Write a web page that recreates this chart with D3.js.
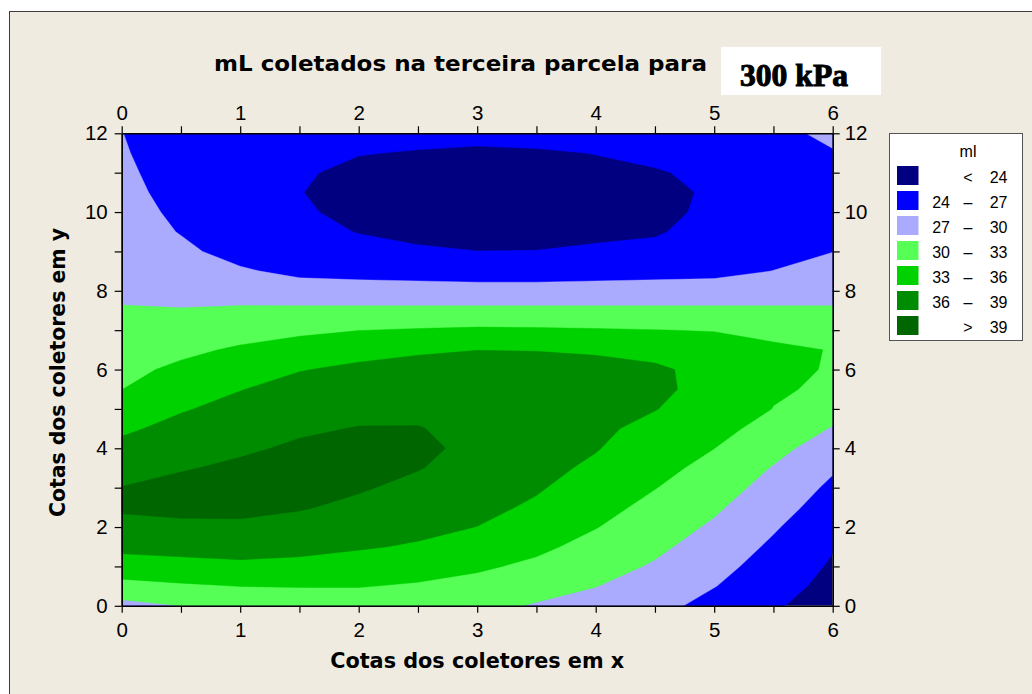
<!DOCTYPE html>
<html>
<head>
<meta charset="utf-8">
<script src="https://cdn.jsdelivr.net/npm/d3@7"></script>
<style>
  body { margin: 0; background: #ffffff; }
  svg { display: block; }
</style>
</head>
<body>
<svg id="chart" width="1032" height="694"></svg>
<script>
// ---------------- DATA ----------------
const xValues = [0, 0.5, 1, 1.5, 2, 2.5, 3, 3.5, 4, 4.5, 5, 5.5, 6];
const yValues = [0, 0.5, 1, 1.5, 2, 2.5, 3, 3.5, 4, 4.5, 5, 5.5, 6, 6.5, 7, 7.5, 8, 8.5, 9, 9.5, 10, 10.5, 11, 11.5, 12];

// mL collected, one array per x position (values from y = 0 up to y = 12)
const mlX0_0 = [29.1, 32.06, 34.73, 36.71, 38.12, 39.42, 39.07, 37.91, 36.74, 35.53, 34.24, 32.97, 32.28, 31.58, 30.89, 30.19, 29.5, 29.2, 28.9, 28.55, 28.2, 27.9, 27.5, 27.25, 27.05];
const mlX0_5 = [30.02, 32.63, 35.08, 36.95, 38.48, 39.63, 39.8, 38.8, 37.8, 36.8, 35.78, 34.66, 33.54, 32.41, 31.27, 30.12, 29.27, 28.45, 27.63, 26.85, 26.38, 25.92, 25.83, 25.58, 25.4];
const mlX1_0 = [30.4, 33.05, 35.43, 37.11, 38.56, 39.61, 40.32, 39.47, 38.61, 37.72, 36.83, 35.92, 34.64, 33.36, 31.9, 30.4, 28.8, 27.36, 25.9, 25.3, 24.95, 24.8, 24.85, 25.0, 25.2];
const mlX1_5 = [30.7, 33.16, 35.22, 36.8, 38.09, 39.21, 39.89, 40.04, 39.38, 38.63, 37.73, 36.84, 35.9, 34.21, 32.45, 30.5, 28.42, 26.27, 25.2, 24.6, 24.25, 24.05, 24.2, 24.5, 24.9];
const mlX2_0 = [31.3, 33.13, 34.76, 36.26, 37.35, 38.43, 39.26, 39.79, 39.67, 39.11, 38.26, 37.34, 36.42, 35.3, 32.95, 30.5, 28.42, 25.88, 24.6, 23.93, 23.5, 23.4, 23.6, 24.07, 24.5];
const mlX2_5 = [31.2, 32.7, 34.21, 35.73, 36.68, 37.51, 38.34, 39.12, 39.7, 39.12, 38.33, 37.5, 36.67, 35.75, 33.23, 30.55, 28.26, 25.74, 24.4, 23.2, 22.8, 22.7, 22.9, 23.9, 24.5];
const mlX3_0 = [30.85, 32.13, 33.41, 34.69, 35.97, 36.7, 37.4, 38.0, 38.2, 38.2, 37.9, 37.4, 36.8, 35.98, 33.46, 30.55, 28.26, 25.4, 24.03, 22.9, 22.4, 22.3, 22.5, 23.5, 24.9];
const mlX3_5 = [29.76, 31.1, 32.44, 33.58, 34.59, 35.6, 36.27, 36.71, 37.16, 37.6, 37.19, 36.79, 36.38, 35.97, 33.39, 30.55, 28.26, 25.4, 24.06, 22.95, 22.5, 22.4, 22.6, 23.6, 25.4];
const mlX4_0 = [29.04, 30.06, 31.08, 32.1, 33.1, 33.92, 34.74, 35.56, 36.14, 36.44, 36.74, 36.55, 36.4, 35.85, 33.23, 30.55, 28.26, 25.74, 24.35, 23.5, 23.0, 22.9, 23.2, 24.09, 25.2];
const mlX4_5 = [28.03, 28.87, 29.71, 30.56, 31.4, 32.25, 33.08, 33.84, 34.61, 35.37, 36.07, 36.43, 36.3, 35.4, 33.07, 30.5, 28.42, 25.88, 24.5, 23.8, 23.5, 23.4, 23.8, 24.6, 25.4];
const mlX5_0 = [25.9, 27.1, 27.93, 28.76, 29.59, 30.43, 31.29, 32.16, 33.02, 33.96, 34.9, 35.3, 35.4, 34.6, 32.86, 30.45, 28.58, 26.03, 25.1, 24.75, 24.4, 24.3, 24.55, 25.2, 25.8];
const mlX5_5 = [24.3, 25.04, 25.78, 26.52, 27.29, 28.14, 28.98, 29.83, 30.84, 31.89, 32.94, 33.32, 33.53, 33.4, 32.4, 30.4, 28.73, 27.05, 25.8, 25.4, 25.2, 25.15, 25.3, 25.8, 26.4];
const mlX6_0 = [22.8, 23.23, 23.67, 24.18, 24.93, 25.69, 26.44, 27.33, 28.58, 29.83, 31.0, 32.56, 32.83, 32.92, 31.62, 30.3, 29.05, 28.0, 26.95, 26.3, 26.0, 25.9, 26.1, 26.85, 27.5];

const thresholds = [24, 27, 30, 33, 36, 39];
const bandColors = ["#000080", "#0000FF", "#AAAAFF", "#55FF55", "#00D200", "#008C00", "#006600"];

const xTickValues = [0, 0.5, 1, 1.5, 2, 2.5, 3, 3.5, 4, 4.5, 5, 5.5, 6];
const xTickLabels = [0, 1, 2, 3, 4, 5, 6];
const yTickValues = [0, 1, 2, 3, 4, 5, 6, 7, 8, 9, 10, 11, 12];
const yTickLabels = [0, 2, 4, 6, 8, 10, 12];

const titleText = "mL coletados na terceira parcela para";
const pressureText = "300 kPa";
const xTitle = "Cotas dos coletores em x";
const yTitle = "Cotas dos coletores em y";
const legendTitle = "ml";

// ---------------- LAYOUT ----------------
const svg = d3.select("#chart");
const plot = { left: 121.7, right: 832.7, top: 133.3, bottom: 605.8 };

const x = d3.scaleLinear().domain([0, 6]).range([plot.left, plot.right]);
const y = d3.scaleLinear().domain([0, 12]).range([plot.bottom, plot.top]);

// outer frame (beige panel)
svg.append("rect").attr("x", 0).attr("y", 0).attr("width", 1032).attr("height", 694).attr("fill", "#ffffff");
svg.append("rect")
  .attr("x", 9.5).attr("y", 11.5).attr("width", 1200).attr("height", 900)
  .attr("fill", "#F0EBE1").attr("stroke", "#3c3c3c").attr("stroke-width", 1);

// ---------------- CONTOURS ----------------
const columns = [mlX0_0, mlX0_5, mlX1_0, mlX1_5, mlX2_0, mlX2_5, mlX3_0, mlX3_5, mlX4_0, mlX4_5, mlX5_0, mlX5_5, mlX6_0];
const nx = xValues.length, ny = yValues.length;
const grid = new Array(nx * ny);
for (let j = 0; j < ny; j++) for (let i = 0; i < nx; i++) grid[j * nx + i] = columns[i][j];

const xStep = xValues[1] - xValues[0];
const yStep = yValues[1] - yValues[0];
const projection = d3.geoTransform({
  point: function (gx, gy) {
    this.stream.point(x(xValues[0] + (gx - 0.5) * xStep), y(yValues[0] + (gy - 0.5) * yStep));
  }
});
const path = d3.geoPath(projection);

svg.append("clipPath").attr("id", "plotClip")
  .append("rect")
  .attr("x", plot.left).attr("y", plot.top)
  .attr("width", plot.right - plot.left).attr("height", plot.bottom - plot.top);

const gPlot = svg.append("g").attr("clip-path", "url(#plotClip)");
gPlot.append("rect")
  .attr("x", plot.left).attr("y", plot.top)
  .attr("width", plot.right - plot.left).attr("height", plot.bottom - plot.top)
  .attr("fill", bandColors[0]);

const contours = d3.contours().size([nx, ny]).thresholds(thresholds)(grid);
gPlot.selectAll("path.band")
  .data(contours)
  .join("path")
  .attr("class", "band")
  .attr("d", path)
  .attr("fill", (d, i) => bandColors[i + 1])
  .attr("stroke", (d, i) => bandColors[i + 1])
  .attr("stroke-width", 0.4);

// ---------------- AXES ----------------
const tickFont = "'Liberation Sans', Arial, sans-serif";
const fmtX = v => (xTickLabels.includes(v) ? String(v) : "");
const fmtY = v => (yTickLabels.includes(v) ? String(v) : "");

function styleAxis(g) {
  g.select(".domain").attr("stroke", "#000").attr("stroke-width", 1.6);
  g.selectAll(".tick line").attr("stroke", "#000").attr("stroke-width", 1.2);
  g.selectAll(".tick text").attr("fill", "#000").style("font-family", tickFont).style("font-size", "20.5px");
}

svg.append("g").attr("transform", `translate(0,${plot.bottom})`)
  .call(d3.axisBottom(x).tickValues(xTickValues).tickFormat(fmtX).tickSize(7).tickSizeOuter(0).tickPadding(10))
  .call(styleAxis);
svg.append("g").attr("transform", `translate(0,${plot.top})`)
  .call(d3.axisTop(x).tickValues(xTickValues).tickFormat(fmtX).tickSize(7).tickSizeOuter(0).tickPadding(6))
  .call(styleAxis);
svg.append("g").attr("transform", `translate(${plot.left},0)`)
  .call(d3.axisLeft(y).tickValues(yTickValues).tickFormat(fmtY).tickSize(7).tickSizeOuter(0).tickPadding(7))
  .call(styleAxis);
svg.append("g").attr("transform", `translate(${plot.right},0)`)
  .call(d3.axisRight(y).tickValues(yTickValues).tickFormat(fmtY).tickSize(7).tickSizeOuter(0).tickPadding(5))
  .call(styleAxis);

// ---------------- TITLES ----------------
const titleFont = "'DejaVu Sans', Verdana, sans-serif";
svg.append("text")
  .attr("x", 214).attr("y", 71)
  .attr("textLength", 493).attr("lengthAdjust", "spacingAndGlyphs")
  .style("font-family", titleFont).style("font-weight", "bold").style("font-size", "22px")
  .attr("fill", "#000").text(titleText);

svg.append("rect")
  .attr("x", 721).attr("y", 47).attr("width", 160).attr("height", 48)
  .attr("fill", "#ffffff");
svg.append("text")
  .attr("x", 740).attr("y", 86)
  .attr("textLength", 108).attr("lengthAdjust", "spacingAndGlyphs")
  .style("font-family", "'Liberation Serif', 'Times New Roman', serif")
  .style("font-weight", "bold").style("font-size", "31px")
  .attr("fill", "#000").attr("stroke", "#000").attr("stroke-width", 1)
  .text(pressureText);

svg.append("text")
  .attr("x", (plot.left + plot.right) / 2).attr("y", 668)
  .attr("text-anchor", "middle")
  .attr("textLength", 294).attr("lengthAdjust", "spacingAndGlyphs")
  .style("font-family", titleFont).style("font-weight", "bold").style("font-size", "21px")
  .attr("fill", "#000").text(xTitle);

svg.append("text")
  .attr("transform", `translate(65,${(plot.top + plot.bottom) / 2 + 3}) rotate(-90)`)
  .attr("text-anchor", "middle")
  .attr("textLength", 289).attr("lengthAdjust", "spacingAndGlyphs")
  .style("font-family", titleFont).style("font-weight", "bold").style("font-size", "21px")
  .attr("fill", "#000").text(yTitle);

// ---------------- LEGEND ----------------
const legend = svg.append("g");
legend.append("rect")
  .attr("x", 889.5).attr("y", 133.5).attr("width", 133).attr("height", 207)
  .attr("fill", "#ffffff").attr("stroke", "#555").attr("stroke-width", 1);
legend.append("text")
  .attr("x", 968).attr("y", 157).attr("text-anchor", "middle")
  .style("font-family", tickFont).style("font-size", "16px").attr("fill", "#000")
  .text(legendTitle);

const legendRows = bandColors.map((c, k) => {
  if (k === 0) return { color: c, low: "", sym: "<", high: String(thresholds[0]) };
  if (k === bandColors.length - 1) return { color: c, low: "", sym: ">", high: String(thresholds[thresholds.length - 1]) };
  return { color: c, low: String(thresholds[k - 1]), sym: "\u2013", high: String(thresholds[k]) };
});

const rowG = legend.selectAll("g.row").data(legendRows).join("g")
  .attr("class", "row")
  .attr("transform", (d, k) => `translate(0,${166 + k * 25})`);
rowG.append("rect").attr("x", 897).attr("y", 0).attr("width", 21.5).attr("height", 19)
  .attr("fill", d => d.color);
rowG.append("text").attr("x", 950).attr("y", 17.3).attr("text-anchor", "end")
  .style("font-family", tickFont).style("font-size", "16px").attr("fill", "#000")
  .text(d => d.low);
rowG.append("text").attr("x", 968).attr("y", 17.3).attr("text-anchor", "middle")
  .style("font-family", tickFont).style("font-size", "16px").attr("fill", "#000")
  .text(d => d.sym);
rowG.append("text").attr("x", 1007.5).attr("y", 17.3).attr("text-anchor", "end")
  .style("font-family", tickFont).style("font-size", "16px").attr("fill", "#000")
  .text(d => d.high);
</script>
</body>
</html>
